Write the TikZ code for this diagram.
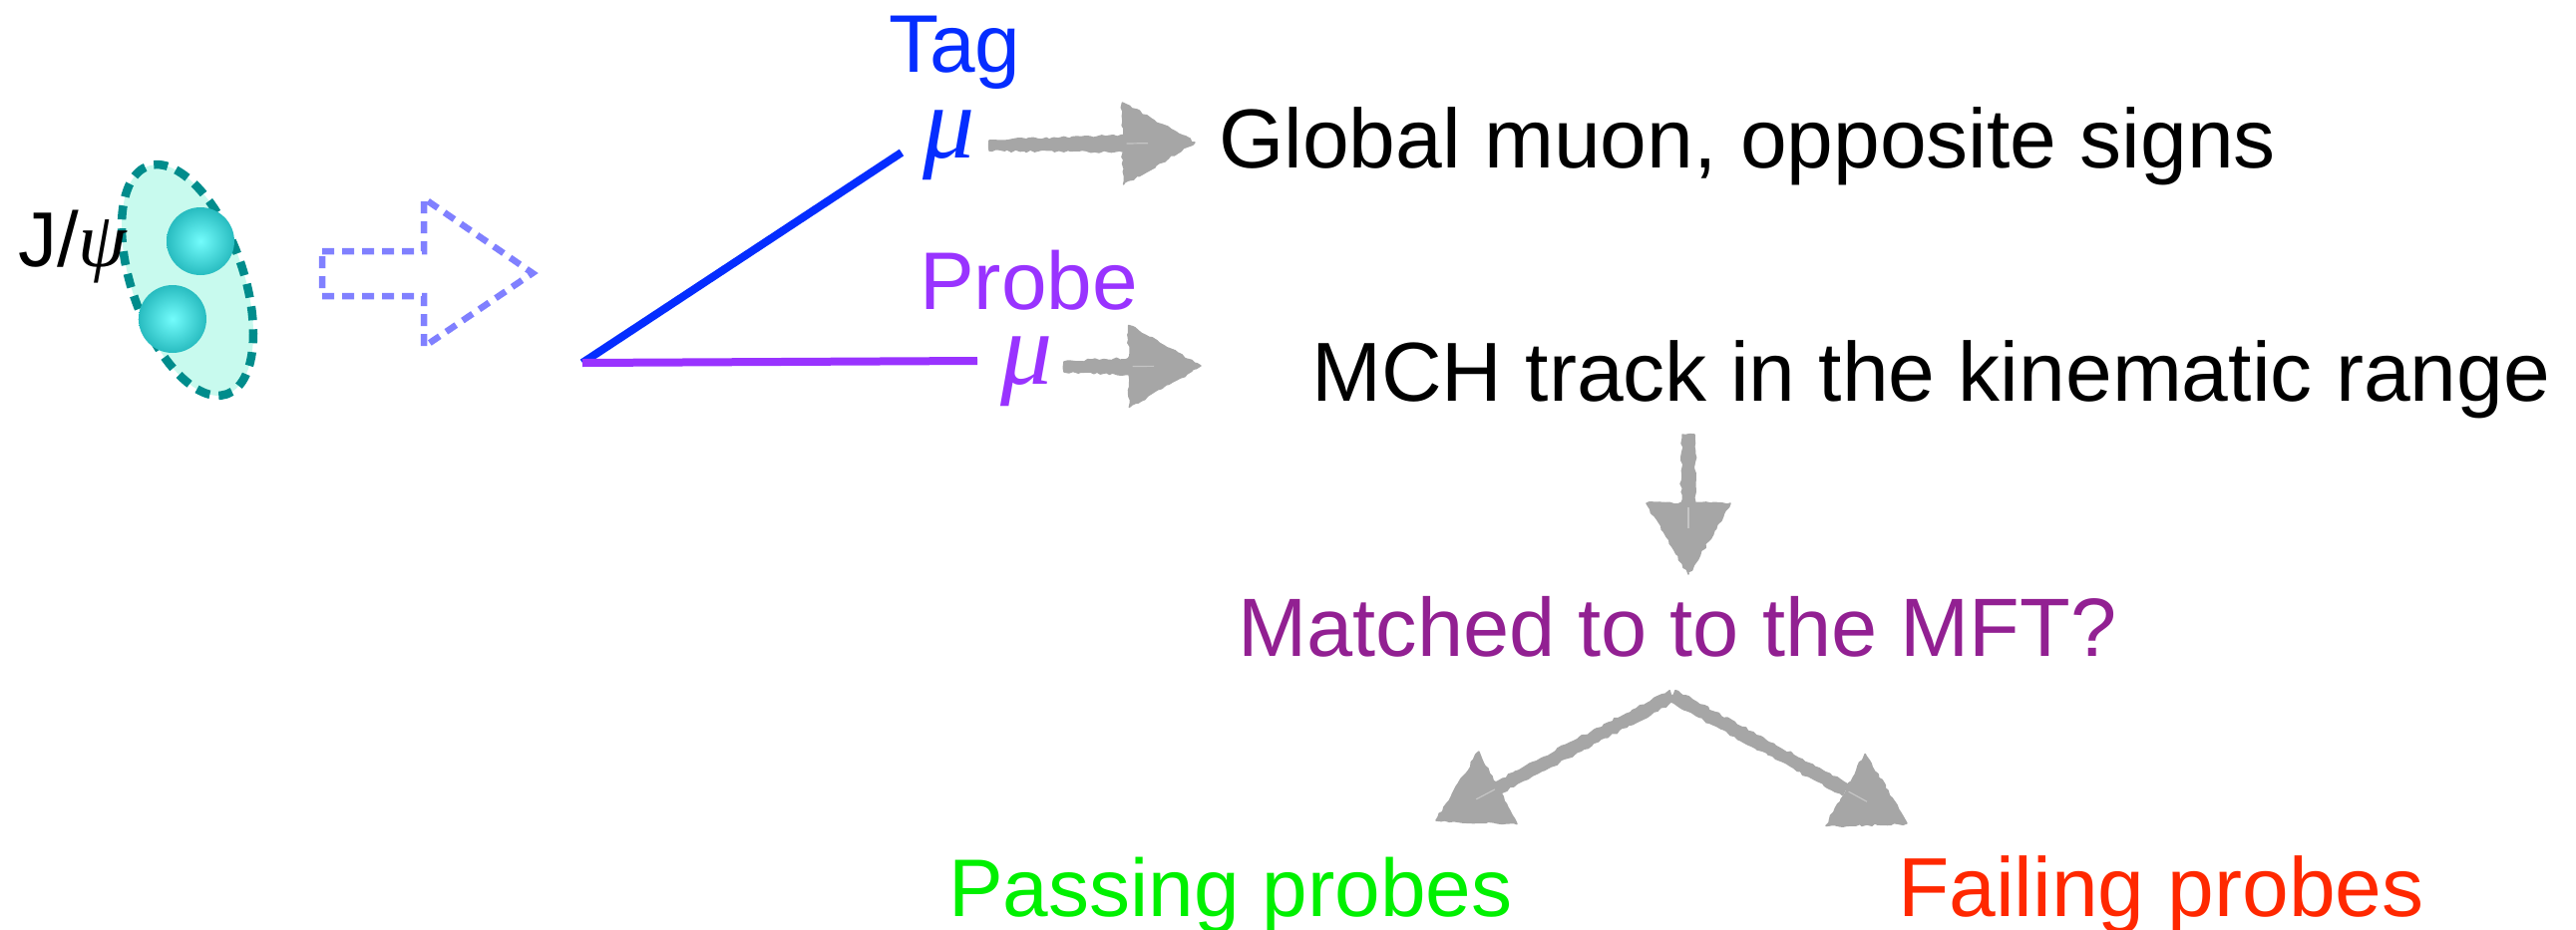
\documentclass[tikz,border=0pt]{standalone}
\usepackage{fontspec}
\setmainfont{Liberation Sans}
\newfontfamily\greekfont{Liberation Serif}
\usetikzlibrary{calc,decorations.pathmorphing}

\definecolor{tagblue}{RGB}{5,45,255}
\definecolor{probeviolet}{RGB}{153,51,255}
\definecolor{matchpurple}{RGB}{146,32,146}
\definecolor{passgreen}{RGB}{0,240,0}
\definecolor{failred}{RGB}{255,40,0}
\definecolor{sketchgray}{RGB}{166,166,166}
\definecolor{pairteal}{RGB}{0,140,140}
\definecolor{pairfill}{RGB}{200,250,238}
\definecolor{ballin}{RGB}{115,252,252}
\definecolor{ballout}{RGB}{40,188,192}
\definecolor{hollowblue}{RGB}{128,128,255}

% hand-drawn grey arrow: #1 start, #2 tip, #3/#4 half widths of the shaft
% at its start and end, #5 head length, #6 half width of the head
\newcommand\sketcharrow[6]{%
  \coordinate (skC) at ($(#2)!#5!(#1)$);
  \fill[roughfill]
    ($(#1)!#3!90:(skC)$) -- ($(skC)!#4!-90:(#1)$) --
    ($(skC)!#4!90:(#1)$) -- ($(#1)!#3!-90:(skC)$) -- cycle;
  \fill[roughfill]
    ($(skC)!#6!90:(#2)$) -- (#2) -- ($(skC)!#6!-90:(#2)$) -- cycle;
  \draw[grain] ($(skC)!0.35!(#2)$) -- ($(skC)!0.05!(#2)$);
}

\begin{document}
\pgfmathsetseed{11}
\begin{tikzpicture}[x=1pt,y=-1pt,
  lbl/.style={inner sep=0pt, anchor=base west},
  bigtext/.style={lbl, font=\fontsize{84}{96}\selectfont},
  midtext/.style={lbl, font=\fontsize{83}{94}\selectfont},
  roletext/.style={lbl, font=\fontsize{82}{94}\selectfont},
  mutext/.style={inner sep=0pt, text height=48pt, text depth=22pt,
    font=\fontsize{104}{110}\selectfont\greekfont\itshape},
  roughfill/.style={fill=sketchgray, draw=sketchgray, line width=1.5pt,
    line join=round, decorate,
    decoration={random steps, segment length=4pt, amplitude=1.3pt}},
  grain/.style={draw=white, opacity=0.35, line width=1.2pt},
  track/.style={line width=8pt},
  ball/.style={inner color=ballin, outer color=ballout}
]
\useasboundingbox (0,0) rectangle (2583,932);

% J/psi: dashed envelope holding the two quarks
\draw[pairteal, fill=pairfill, line width=8.5pt, dash pattern=on 14pt off 9pt,
  rotate around={19:(188,281)}] (188,281) ellipse [x radius=56, y radius=121];
\shade[ball] (201,242) circle [radius=34];
\shade[ball] (173,320) circle [radius=34];
\node[lbl, font=\fontsize{78}{90}\selectfont] (jpsi) at (18,267)
  {J/{\greekfont\itshape ψ}};

% hollow dashed arrow
\draw[hollowblue, line width=6.5pt, dash pattern=on 12pt off 8pt, line join=miter]
  (323,252) -- (425,252) -- (425,199) -- (534,274) -- (425,348)
  -- (425,297) -- (323,297) -- cycle;

% decay into the tag and probe muons
\coordinate (vertex) at (584,364);
\coordinate (tagend) at (904,153);
\coordinate (probeend) at (980,362);
\draw[track, tagblue] (vertex) -- (tagend);
\draw[track, probeviolet] (vertex) -- (probeend);

\node[roletext, text=tagblue] (tag) at (891,72) {Tag};
\node[mutext, text=tagblue] (mutag) at (952,145) {μ};
\node[roletext, text=probeviolet] (probe) at (922,310) {Probe};
\node[mutext, text=probeviolet] (muprobe) at (1030,372) {μ};

% selection texts
\node[bigtext] (glob) at (1222,168) {Global muon, opposite signs};
\node[bigtext] (mch) at (1315,402) {MCH track in the kinematic range};
\node[midtext, text=matchpurple] (match) at (1241,658) {Matched to to the MFT?};
\node[midtext, font=\fontsize{82}{94}\selectfont, text=passgreen] (pass)
  at (951,919) {Passing probes};
\node[midtext, font=\fontsize{84}{94}\selectfont, text=failred] (fail)
  at (1903,919) {Failing probes};

% sketched arrows
\coordinate (tagA) at (992,146);
\coordinate (tagB) at (1198,143);
\coordinate (probeA) at (1067,368);
\coordinate (probeB) at (1204,367);
\coordinate (downA) at (1693,436);
\coordinate (downB) at (1693,576);
\coordinate (split) at (1677,698);
\coordinate (passtip) at (1440,823);
\coordinate (failtip) at (1912,826);

\sketcharrow{tagA}{tagB}{5pt}{8pt}{72pt}{41pt}
\sketcharrow{probeA}{probeB}{5pt}{8pt}{72pt}{41pt}
\sketcharrow{downA}{downB}{6pt}{7pt}{71pt}{42pt}
\sketcharrow{split}{passtip}{6pt}{6pt}{70pt}{41pt}
\sketcharrow{split}{failtip}{6pt}{6pt}{70pt}{41pt}
\end{tikzpicture}
\end{document}
